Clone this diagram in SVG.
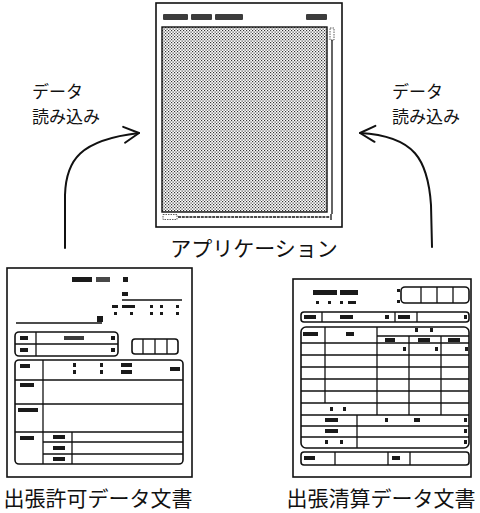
<svg xmlns="http://www.w3.org/2000/svg" width="480" height="513" viewBox="0 0 480 513">
<style>
.ln{fill:none;stroke:#111;stroke-width:1.3}
.bd{fill:none;stroke:#111;stroke-width:1.6}
.mk{fill:#1a1a1a}
.lbl{font-family:"Noto Sans CJK JP","Noto Sans",sans-serif;fill:#111}
.arr{fill:none;stroke:#111;stroke-width:2;stroke-linecap:round;stroke-linejoin:round}
</style>
<defs>
<pattern id="dots" width="3" height="3" patternUnits="userSpaceOnUse">
<rect width="3" height="3" fill="#fff"/>
<rect x="0" y="0" width="1.2" height="1.2" fill="#333"/>
<rect x="1.5" y="1.5" width="1.2" height="1.2" fill="#333"/>
</pattern>
<marker id="head" viewBox="0 0 20 20" refX="17" refY="10" markerWidth="20" markerHeight="20" markerUnits="userSpaceOnUse" orient="auto">
<path d="M2,2 L17,10 L2,18" fill="none" stroke="#111" stroke-width="2" stroke-linecap="round" stroke-linejoin="round"/>
</marker>
</defs>
<rect width="480" height="513" fill="#fff"/>

<g id="application">
<rect x="156" y="3" width="186" height="224" class="bd"/>
<rect x="162" y="27" width="165" height="185" fill="url(#dots)" stroke="#111" stroke-width="1.4"/>
<rect class="mk" x="163" y="14" width="25" height="6" rx="1" opacity="0.85"/>
<rect class="mk" x="191" y="14" width="21" height="6" rx="1" opacity="0.85"/>
<rect class="mk" x="215" y="14" width="28" height="6" rx="1" opacity="0.85"/>
<rect class="mk" x="306" y="14" width="21" height="6" rx="1" opacity="0.85"/>
<rect x="330" y="28" width="4" height="12" fill="none" stroke="#333" stroke-width="0.8" stroke-dasharray="1.5 1"/>
<line x1="332" y1="40" x2="332" y2="214" class="ln"/>
<line x1="178" y1="217" x2="330" y2="217" class="ln" stroke-dasharray="3 0.8"/>
<rect x="163" y="214.5" width="14" height="5" fill="none" stroke="#333" stroke-width="0.8" stroke-dasharray="1.5 1"/>
<line x1="331" y1="214" x2="331" y2="220" class="ln"/>
<text class="lbl" x="254" y="256" font-size="21" text-anchor="middle">アプリケーション</text>
</g>

<g id="permit-doc">
<rect x="7" y="268" width="185" height="209" class="bd"/>
<rect class="mk" x="72" y="277" width="20" height="5"/>
<rect class="mk" x="96" y="277" width="14" height="5" opacity="0.8"/>
<rect class="mk" x="123" y="277" width="5" height="5"/>
<rect class="mk" x="122" y="292" width="6" height="4"/>
<line x1="122" y1="300" x2="182" y2="300" class="ln"/>
<rect class="mk" x="112" y="305" width="6" height="3"/>
<rect class="mk" x="122" y="305" width="13" height="3"/>
<rect class="mk" x="150" y="305" width="3" height="3"/>
<rect class="mk" x="160" y="305" width="3" height="3"/>
<rect class="mk" x="176" y="305" width="3" height="3"/>
<rect class="mk" x="114" y="312" width="3" height="3"/>
<rect class="mk" x="130" y="312" width="3" height="3"/>
<rect class="mk" x="150" y="312" width="3" height="3"/>
<rect class="mk" x="160" y="312" width="3" height="3"/>
<rect class="mk" x="176" y="312" width="3" height="3"/>
<line x1="16" y1="323" x2="102" y2="323" class="ln" stroke-width="1.6"/>
<rect class="mk" x="97" y="316" width="6" height="6"/>

<rect x="15" y="332" width="103" height="24" rx="4" class="bd"/>
<line x1="15" y1="344" x2="118" y2="344" class="ln"/>
<line x1="36" y1="332" x2="36" y2="356" class="ln"/>
<rect class="mk" x="20" y="336" width="8" height="4"/>
<rect class="mk" x="20" y="348" width="8" height="4"/>
<rect class="mk" x="64" y="336" width="20" height="4" opacity="0.85"/>
<rect class="mk" x="111" y="336" width="4" height="4"/>
<rect class="mk" x="111" y="348" width="4" height="4"/>

<rect x="132" y="339" width="46" height="15" rx="3" class="bd"/>
<line x1="143" y1="339" x2="143" y2="354" class="ln"/>
<line x1="155" y1="339" x2="155" y2="354" class="ln"/>
<line x1="167" y1="339" x2="167" y2="354" class="ln"/>

<rect x="15" y="360" width="168" height="104" rx="4" class="bd"/>
<line x1="43" y1="360" x2="43" y2="464" class="ln"/>
<line x1="15" y1="380" x2="183" y2="380" class="ln"/>
<line x1="15" y1="404" x2="183" y2="404" class="ln"/>
<line x1="15" y1="432" x2="183" y2="432" class="ln"/>
<line x1="72" y1="432" x2="72" y2="464" class="ln"/>
<line x1="43" y1="442" x2="183" y2="442" class="ln"/>
<line x1="43" y1="454" x2="183" y2="454" class="ln"/>
<rect class="mk" x="20" y="364" width="10" height="4"/>
<rect class="mk" x="73" y="363" width="3" height="4"/>
<rect class="mk" x="73" y="370" width="3" height="4"/>
<rect class="mk" x="100" y="363" width="3" height="4"/>
<rect class="mk" x="100" y="370" width="3" height="4"/>
<rect class="mk" x="121" y="363" width="11" height="4"/>
<rect class="mk" x="121" y="370" width="11" height="4"/>
<rect class="mk" x="170" y="367" width="10" height="4"/>
<rect class="mk" x="20" y="383" width="14" height="4"/>
<rect class="mk" x="18" y="408" width="20" height="4"/>
<rect class="mk" x="20" y="436" width="14" height="4"/>
<rect class="mk" x="53" y="435" width="12" height="4"/>
<rect class="mk" x="53" y="446" width="12" height="4"/>
<rect class="mk" x="53" y="457" width="12" height="4"/>
<text class="lbl" x="98" y="506" font-size="21" text-anchor="middle">出張許可データ文書</text>
</g>

<g id="settlement-doc">
<rect x="293" y="279" width="178" height="198" class="bd"/>
<rect class="mk" x="313" y="290" width="24" height="5"/>
<rect class="mk" x="340" y="290" width="18" height="5"/>
<rect class="mk" x="316" y="301" width="3" height="3"/>
<rect class="mk" x="328" y="301" width="3" height="3"/>
<rect class="mk" x="340" y="301" width="3" height="3"/>
<rect class="mk" x="348" y="301" width="8" height="3"/>
<rect class="mk" x="397" y="289" width="3" height="3"/>
<rect class="mk" x="397" y="300" width="3" height="3"/>
<rect x="401" y="287" width="68" height="16" rx="4" class="bd"/>
<line x1="421" y1="287" x2="421" y2="303" class="ln"/>
<line x1="437" y1="287" x2="437" y2="303" class="ln"/>
<line x1="453" y1="287" x2="453" y2="303" class="ln"/>

<rect x="301" y="312" width="168" height="10" rx="3" class="bd"/>
<line x1="322" y1="312" x2="322" y2="322" class="ln"/>
<line x1="395" y1="312" x2="395" y2="322" class="ln"/>
<line x1="417" y1="312" x2="417" y2="322" class="ln"/>
<rect class="mk" x="304" y="315" width="12" height="4"/>
<rect class="mk" x="340" y="315" width="13" height="4"/>
<rect class="mk" x="385" y="315" width="4" height="4"/>
<rect class="mk" x="398" y="315" width="12" height="4"/>
<rect class="mk" x="464" y="315" width="3" height="4"/>

<rect x="301" y="327" width="168" height="121" rx="5" class="bd"/>
<line x1="325" y1="327" x2="325" y2="403" class="ln"/>
<line x1="377" y1="327" x2="377" y2="415" class="ln"/>
<line x1="409" y1="336" x2="409" y2="415" class="ln"/>
<line x1="441" y1="336" x2="441" y2="415" class="ln"/>
<line x1="377" y1="336" x2="469" y2="336" class="ln"/>
<line x1="301" y1="343" x2="469" y2="343" class="ln"/>
<line x1="301" y1="355" x2="469" y2="355" class="ln"/>
<line x1="301" y1="367" x2="469" y2="367" class="ln"/>
<line x1="301" y1="379" x2="469" y2="379" class="ln"/>
<line x1="301" y1="391" x2="469" y2="391" class="ln"/>
<line x1="301" y1="403" x2="469" y2="403" class="ln"/>
<line x1="301" y1="415" x2="469" y2="415" class="ln"/>
<line x1="301" y1="426" x2="469" y2="426" class="ln"/>
<line x1="301" y1="437" x2="469" y2="437" class="ln"/>
<line x1="357" y1="415" x2="357" y2="448" class="ln"/>
<rect class="mk" x="303" y="332" width="15" height="4"/>
<rect class="mk" x="346" y="332" width="8" height="4"/>
<rect class="mk" x="415" y="328" width="3" height="4"/>
<rect class="mk" x="430" y="328" width="3" height="4"/>
<rect class="mk" x="385" y="338" width="10" height="4"/>
<rect class="mk" x="418" y="338" width="12" height="4"/>
<rect class="mk" x="448" y="338" width="12" height="4"/>
<rect class="mk" x="403" y="347" width="3" height="4"/>
<rect class="mk" x="435" y="347" width="3" height="4"/>
<rect class="mk" x="465" y="347" width="3" height="4"/>
<rect class="mk" x="330" y="407" width="3" height="4"/>
<rect class="mk" x="343" y="407" width="3" height="4"/>
<rect class="mk" x="325" y="418" width="13" height="4"/>
<rect class="mk" x="385" y="418" width="3" height="4"/>
<rect class="mk" x="414" y="418" width="6" height="4"/>
<rect class="mk" x="464" y="418" width="3" height="4"/>
<rect class="mk" x="325" y="429" width="13" height="4"/>
<rect class="mk" x="464" y="429" width="3" height="4"/>
<rect class="mk" x="325" y="440" width="3" height="4"/>
<rect class="mk" x="340" y="440" width="3" height="4"/>
<rect class="mk" x="464" y="440" width="3" height="4"/>

<rect x="301" y="452" width="168" height="13" rx="3" class="bd"/>
<line x1="335" y1="452" x2="335" y2="465" class="ln"/>
<line x1="388" y1="452" x2="388" y2="465" class="ln"/>
<line x1="410" y1="452" x2="410" y2="465" class="ln"/>
<rect class="mk" x="304" y="456" width="11" height="4"/>
<rect class="mk" x="392" y="456" width="8" height="4"/>
<text class="lbl" x="381" y="506" font-size="21" text-anchor="middle">出張清算データ文書</text>
</g>

<g id="connectors">
<path class="arr" d="M65,248 L65,195 C66,160 80,140 139,133" marker-end="url(#head)"/>
<path class="arr" d="M432,247 L431,205 C428,160 415,136 360,133" marker-end="url(#head)"/>
<text class="lbl" x="32" y="98" font-size="17">データ</text>
<text class="lbl" x="32" y="123" font-size="17">読み込み</text>
<text class="lbl" x="392" y="98" font-size="17">データ</text>
<text class="lbl" x="392" y="123" font-size="17">読み込み</text>
</g>
</svg>
